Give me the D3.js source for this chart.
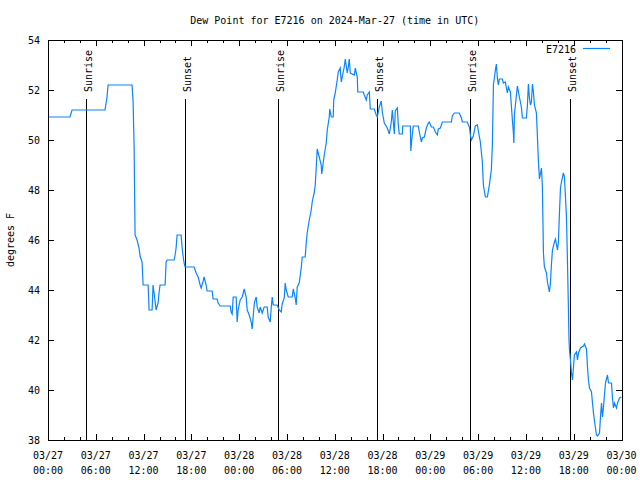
<!DOCTYPE html>
<html><head><meta charset="utf-8">
<script src="https://cdn.jsdelivr.net/npm/d3@7"></script>
<style>
body{margin:0;background:#fff}
text{font-family:"DejaVu Sans Mono","Liberation Mono",monospace;font-size:10px;fill:#000}
</style>
</head><body><svg id="c" width="640" height="480"></svg>
<script>
const title = "Dew Point for E7216 on 2024-Mar-27 (time in UTC)";
const seriesName = "E7216";
const yLabel = "degrees F";
const startUTC = "2024-03-27T00:00:00Z";
const spanHours = 72;
const yDomain = [38, 54];
const yTicks = [38, 40, 42, 44, 46, 48, 50, 52, 54];
const sunLabels = ["Sunrise", "Sunset", "Sunrise", "Sunset", "Sunrise", "Sunset"];
const sunHours = [4.8, 17.25, 28.9, 41.35, 52.95, 65.5];

// hours after start, dew point (F)
const hours = [0,2.76,3.02,7.16,7.41,7.54,10.55,10.68,10.81,10.93,11.18,11.43,11.56,11.81,11.94,12.57,12.69,13.07,13.19,13.32,13.57,13.82,13.95,14.07,14.70,14.83,14.95,15.83,15.96,16.08,16.21,16.71,16.84,16.96,17.09,17.21,18.35,18.60,18.85,19.10,19.23,19.48,19.60,19.85,19.98,20.61,20.73,21.24,21.36,21.61,22.87,22.99,23.12,23.25,23.62,23.75,23.87,24.13,24.38,24.63,24.88,25.01,25.26,25.51,25.63,25.88,26.01,26.14,26.26,26.51,26.64,26.89,27.14,27.52,27.64,27.90,28.02,28.15,28.27,28.77,29.03,29.28,29.40,29.66,29.78,29.91,30.16,30.66,30.79,31.04,31.16,31.29,31.54,31.79,31.92,32.29,32.42,32.54,32.80,33.05,33.17,33.30,33.42,33.55,33.68,33.80,34.05,34.30,34.37,34.55,34.68,34.93,35.06,35.31,35.37,35.56,35.81,35.87,36.06,36.31,36.44,36.69,36.82,36.94,37.19,37.32,37.57,37.70,37.82,37.95,38.45,38.58,38.70,38.83,38.89,39.58,39.71,39.96,40.08,40.34,40.46,40.96,41.21,41.34,41.59,41.84,41.97,42.22,42.60,42.85,43.10,43.23,43.48,43.60,43.86,43.98,44.10,44.48,44.54,45.49,45.55,45.67,45.86,46.49,46.62,46.87,46.99,47.25,47.50,47.75,47.87,48.13,48.38,48.63,48.88,49.00,49.26,49.51,50.64,50.76,51.02,51.64,51.90,52.02,52.65,52.78,52.90,53.03,53.15,53.40,53.65,53.91,54.03,54.28,54.53,54.66,54.91,55.16,55.41,55.66,55.79,55.92,56.17,56.29,56.42,56.54,56.67,57.05,57.17,57.42,57.55,57.67,57.80,58.05,58.30,58.43,58.49,58.55,58.81,58.93,59.18,59.43,59.56,60.06,60.19,60.31,60.44,60.57,60.69,60.82,60.94,61.07,61.32,61.45,61.57,61.70,61.95,62.07,62.14,62.20,62.32,62.58,62.70,62.95,63.08,63.20,63.33,63.58,63.71,63.96,64.08,64.21,64.34,64.46,64.71,64.84,64.90,65.09,65.22,65.34,65.41,65.47,65.59,65.72,65.84,65.97,66.09,66.35,66.47,66.60,66.85,67.22,67.35,67.60,67.73,67.85,67.98,68.23,68.36,68.48,68.73,68.86,68.98,69.24,69.36,69.49,69.61,69.74,69.86,69.99,70.24,70.37,70.74,70.87,70.99,71.12,71.37,71.50,71.75,72.00];
const dewF = [50.92,50.92,51.2,51.2,51.72,52.2,52.2,51.56,49.72,46.2,46.0,45.68,45.36,45.12,44.2,44.2,43.2,43.2,44.2,43.88,43.2,43.48,43.92,44.2,44.2,45.12,45.2,45.2,45.4,45.68,46.2,46.2,45.68,45.36,45.08,44.92,44.92,44.68,44.52,44.2,44.08,44.36,44.52,44.2,43.96,43.96,43.64,43.64,43.48,43.36,43.36,43.12,43.04,43.72,43.72,42.72,43.2,43.6,43.72,44.04,43.72,43.2,43.0,42.72,42.44,43.4,43.6,43.72,43.32,43.08,43.32,43.08,43.32,43.32,42.92,42.72,43.28,43.72,43.4,43.4,43.2,43.12,43.44,43.68,44.28,44.0,43.72,43.72,44.04,43.68,43.4,44.12,44.28,44.88,45.32,45.32,45.88,46.28,46.8,47.2,47.52,47.72,47.88,48.2,48.92,49.64,49.32,49.0,48.64,49.08,49.4,49.88,50.4,50.92,51.24,50.92,50.92,51.6,51.88,52.4,52.72,52.88,52.32,52.52,52.92,53.24,52.68,52.92,53.24,52.68,52.6,52.88,52.68,52.52,51.92,51.92,51.8,51.6,51.8,51.92,51.24,51.24,51.0,50.92,51.32,51.56,51.12,50.68,50.48,50.24,50.72,51.2,50.24,51.16,51.28,50.6,50.24,50.24,50.56,50.56,49.56,50.0,50.56,50.56,50.32,49.92,50.08,50.12,50.48,50.68,50.72,50.52,50.52,50.32,50.2,50.44,50.48,50.72,50.72,50.96,51.08,51.08,50.88,50.72,50.72,50.6,50.52,50.2,50.0,50.16,50.56,50.6,50.36,49.92,49.12,48.2,47.72,47.72,48.2,48.8,49.8,52.2,52.8,53.04,52.48,52.2,52.44,52.44,52.28,52.32,52.08,51.88,52.12,51.92,50.8,50.28,49.88,51.0,51.8,52.16,51.72,51.32,50.88,50.88,51.4,52.24,51.68,51.4,51.52,52.24,51.92,51.4,51.08,50.08,49.12,48.44,48.88,48.12,46.68,45.48,44.92,44.68,44.32,43.92,44.28,45.0,45.6,45.92,46.04,45.6,45.92,47.08,48.08,48.32,48.68,48.52,48.12,46.92,45.08,43.2,42.0,41.6,41.2,40.68,40.4,40.92,41.4,41.52,41.2,41.48,41.68,41.76,41.84,41.64,40.92,40.4,40.08,39.92,39.48,39.08,38.48,38.2,38.16,38.28,38.92,39.48,38.92,39.32,39.8,40.28,40.6,40.28,40.28,39.68,39.28,39.48,39.28,39.48,39.68,39.72];

const W = 640, H = 480;
const m = {left: 48, right: 621.5, top: 40, bottom: 440};
const svg = d3.select("#c");
const t0 = new Date(startUTC);
const hourToDate = h => new Date(t0.getTime() + h * 3600e3);
const data = hours.map((h, i) => ({t: hourToDate(h), v: dewF[i]}));

const x = d3.scaleUtc().domain([t0, hourToDate(spanHours)]).range([m.left, m.right]);
const y = d3.scaleLinear().domain(yDomain).range([m.bottom, m.top]);

// Minor and major ticks (inward, mirrored)
const minorTicks = d3.utcHour.every(2).range(t0, hourToDate(spanHours + 0.01));
const majorTicks = d3.utcHour.every(6).range(t0, hourToDate(spanHours + 0.01));
const tickG = svg.append("g").attr("stroke", "#000").attr("stroke-width", 1).attr("shape-rendering", "crispEdges");
minorTicks.forEach(d => {
  const xx = Math.round(x(d)) + 0.5;
  tickG.append("line").attr("x1", xx).attr("x2", xx).attr("y1", m.bottom).attr("y2", m.bottom - 3);
  tickG.append("line").attr("x1", xx).attr("x2", xx).attr("y1", m.top).attr("y2", m.top + 3);
});
majorTicks.forEach(d => {
  const xx = Math.round(x(d)) + 0.5;
  tickG.append("line").attr("x1", xx).attr("x2", xx).attr("y1", m.bottom).attr("y2", m.bottom - 6);
  tickG.append("line").attr("x1", xx).attr("x2", xx).attr("y1", m.top).attr("y2", m.top + 6);
});
yTicks.forEach(v => {
  const yy = Math.round(y(v)) + 0.5;
  tickG.append("line").attr("x1", m.left).attr("x2", m.left + 6).attr("y1", yy).attr("y2", yy);
  tickG.append("line").attr("x1", m.right).attr("x2", m.right - 6).attr("y1", yy).attr("y2", yy);
});

// X labels
const fmtD = d3.utcFormat("%m/%d"), fmtT = d3.utcFormat("%H:%M");
const xl = svg.append("g");
majorTicks.forEach(d => {
  const t = xl.append("text").attr("x", x(d)).attr("text-anchor", "middle");
  t.append("tspan").attr("x", x(d)).attr("y", 459).text(fmtD(d));
  t.append("tspan").attr("x", x(d)).attr("y", 474).text(fmtT(d));
});
// Y labels
yTicks.forEach(v => {
  svg.append("text").attr("x", 40).attr("y", y(v) + 4).attr("text-anchor", "end").text(v);
});

// Sunrise/sunset lines
sunHours.forEach((h, i) => {
  const xx = Math.round(x(hourToDate(h))) + 0.5;
  svg.append("line").attr("x1", xx).attr("x2", xx).attr("y1", m.top + 59).attr("y2", m.bottom)
    .attr("stroke", "#000").attr("stroke-width", 1).attr("shape-rendering", "crispEdges");
  svg.append("text").attr("transform", `translate(${xx + 5},${m.top + 52}) rotate(-90)`)
    .attr("text-anchor", "start").text(sunLabels[i]);
});

// Data line
svg.append("path").datum(data)
  .attr("fill", "none").attr("stroke", "#0a84ff").attr("stroke-width", 1.2)
  .attr("d", d3.line().x(d => x(d.t)).y(d => y(d.v)));

// Frame
svg.append("rect").attr("x", m.left + 0.5).attr("y", m.top + 0.5)
  .attr("width", Math.round(m.right - m.left)).attr("height", m.bottom - m.top)
  .attr("fill", "none").attr("stroke", "#000").attr("shape-rendering", "crispEdges");

// Title
svg.append("text").attr("x", (m.left + m.right) / 2).attr("y", 24).attr("text-anchor", "middle").text(title);
// Y axis label
svg.append("text").attr("transform", `translate(14,${(m.top + m.bottom) / 2}) rotate(-90)`)
  .attr("text-anchor", "middle").text(yLabel);
// Legend
svg.append("text").attr("x", 576).attr("y", 53).attr("text-anchor", "end").text(seriesName);
svg.append("line").attr("x1", 583).attr("x2", 610).attr("y1", 48.5).attr("y2", 48.5)
  .attr("stroke", "#0a84ff").attr("stroke-width", 1.2);
</script>
</body></html>
